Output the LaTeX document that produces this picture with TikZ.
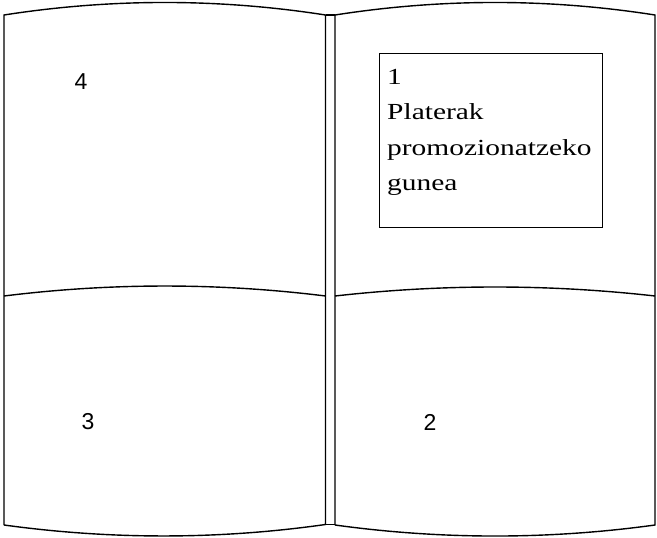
\documentclass[tikz,border=0pt]{standalone}
\usepackage{fontspec}
\setmainfont{Liberation Serif}
\newfontfamily\boxfont[FakeStretch=1.28]{Liberation Serif}
\newfontfamily\numfont{Liberation Sans}
\begin{document}
\begin{tikzpicture}[x=1pt,y=-1pt,
  pageline/.style={line width=1.4pt, black},
  pagenum/.style={font=\numfont\fontsize{23}{23}\selectfont, inner sep=0pt},
  boxtext/.style={font=\boxfont\fontsize{23}{35.5}\selectfont, align=left, inner sep=0pt, anchor=north west}]
\useasboundingbox (0,0) rectangle (657,538);
% left page
\draw[pageline] (4,525) -- (4,15) .. controls (111,-1.7) and (218.5,-1.7) .. (325.5,15) -- (325.5,524.5) .. controls (218.5,539.7) and (111,539.7) .. (4,525);
\draw[pageline] (4,296) .. controls (111,282.7) and (218.5,282.7) .. (325.5,296);
% right page
\draw[pageline] (335,525) -- (335,15) .. controls (441.7,-1.7) and (548.3,-1.7) .. (655,15) -- (655,525) .. controls (548.3,539.7) and (441.7,539.7) .. (335,525);
\draw[pageline] (335,296) .. controls (441.7,284) and (548.3,284) .. (655,296);
% spine caps
\draw[pageline] (325.5,15) -- (335,15);
\draw[pageline] (325.5,524.5) -- (335,524.5);
% box
\node[draw, line width=1.2pt, minimum width=223pt, minimum height=174pt, anchor=north west, inner sep=0pt] (box) at (379,53) {};
\node[boxtext] (txt) at (387,69) {1\\Platerak\\promozionatzeko\\gunea};
% numbers
\node[pagenum] (n4) at (81,82) {4};
\node[pagenum] (n3) at (88,422) {3};
\node[pagenum] (n2) at (430,422) {2};
\end{tikzpicture}
\end{document}
